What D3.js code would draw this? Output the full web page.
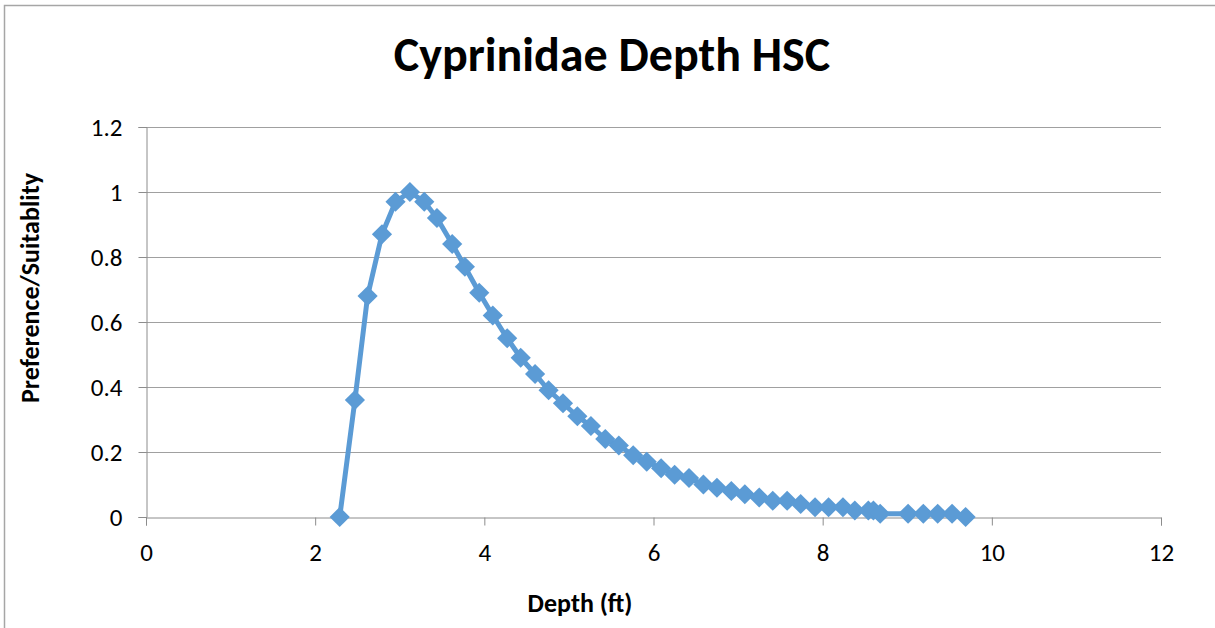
<!DOCTYPE html>
<html><head><meta charset="utf-8">
<script src="https://cdn.jsdelivr.net/npm/d3@7"></script>
<style>
html,body{margin:0;padding:0;background:#fff;}
text{font-family:Carlito,Calibri,Lato,"Open Sans",sans-serif;}
</style></head>
<body>
<svg id="chart" width="1215" height="628"></svg>
<script>
const depth = [2.29,2.47,2.62,2.79,2.95,3.12,3.29,3.44,3.62,3.77,3.94,4.10,4.27,4.43,4.60,4.76,4.93,5.10,5.26,5.43,5.59,5.76,5.92,6.09,6.25,6.42,6.59,6.75,6.92,7.08,7.25,7.41,7.58,7.74,7.91,8.07,8.24,8.38,8.54,8.60,8.68,9.01,9.19,9.36,9.53,9.69];
const suitability = [0,0.36,0.68,0.87,0.97,1.0,0.97,0.92,0.84,0.77,0.69,0.62,0.55,0.49,0.44,0.39,0.35,0.31,0.28,0.24,0.22,0.19,0.17,0.15,0.13,0.12,0.10,0.09,0.08,0.07,0.06,0.05,0.05,0.04,0.03,0.03,0.03,0.02,0.02,0.02,0.01,0.01,0.01,0.01,0.01,0];
const xTicks = [0,2,4,6,8,10,12];
const yTicks = [0,0.2,0.4,0.6,0.8,1,1.2];
const title = "Cyprinidae Depth HSC";
const xTitle = "Depth (ft)";
const yTitle = "Preference/Suitablity";

const svg = d3.select("#chart");
const color = "#5B9BD5";
const x = d3.scaleLinear().domain([0,12]).range([146,1161]);
const y = d3.scaleLinear().domain([0,1.2]).range([517,127]);

// outer border
svg.append("path").attr("d","M4.5,628 V5.5 H1215").attr("fill","none").attr("stroke","#a6a6a6").attr("stroke-width",1.5);

// gridlines
svg.append("g").selectAll("line").data(yTicks.filter(d=>d>0)).join("line")
  .attr("x1",x(0)).attr("x2",x(12)).attr("y1",d=>Math.round(y(d))+0.5).attr("y2",d=>Math.round(y(d))+0.5)
  .attr("stroke","#a0a0a0").attr("stroke-width",1);

// y axis
const yAxis = svg.append("g").attr("transform",`translate(${x(0)+0.5},0)`)
  .call(d3.axisLeft(y).tickValues(yTicks).tickSize(8).tickFormat(d=>d3.format("")(d)));
// x axis
const xAxis = svg.append("g").attr("transform",`translate(0,${y(0)+0.5})`)
  .call(d3.axisBottom(x).tickValues(xTicks).tickSize(8).tickFormat(d=>d));
[yAxis,xAxis].forEach(a=>{
  a.select(".domain").attr("stroke","#8c8c8c");
  a.selectAll(".tick line").attr("stroke","#8c8c8c");
  a.selectAll(".tick text").attr("fill","#000").style("font-size","25px").style("font-family","Carlito,Calibri,Lato,sans-serif");
});
yAxis.selectAll(".tick text").attr("x",-24).attr("dy","0.34em");
xAxis.selectAll(".tick text").attr("y",43).attr("dy","0");

// line
const pts = depth.map((d,i)=>[d,suitability[i]]);
svg.append("path").datum(pts)
  .attr("d",d3.line().x(d=>x(d[0])).y(d=>y(d[1])))
  .attr("fill","none").attr("stroke",color).attr("stroke-width",5).attr("stroke-linejoin","round");

// markers
svg.append("g").selectAll("path").data(pts).join("path")
  .attr("d",d3.symbol().type(d3.symbolDiamond2).size(260))
  .attr("transform",d=>`translate(${x(d[0])},${y(d[1])})`)
  .attr("fill",color);

// titles
svg.append("text").attr("x",612).attr("y",71).attr("text-anchor","middle")
  .style("font-size","48px").style("font-weight","bold").text(title);
svg.append("text").attr("x",580).attr("y",612).attr("text-anchor","middle")
  .style("font-size","26px").style("font-weight","bold").text(xTitle);
svg.append("text").attr("transform","translate(39,288) rotate(-90)").attr("text-anchor","middle")
  .style("font-size","26px").style("font-weight","bold").text(yTitle);
</script>
</body></html>
